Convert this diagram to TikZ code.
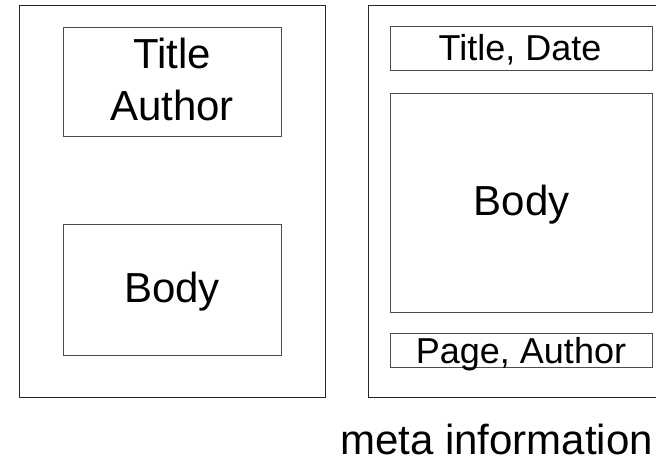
\documentclass[tikz,border=0pt]{standalone}
\usepackage{fontspec}
\setmainfont{Liberation Sans}
\begin{document}
\begin{tikzpicture}[x=1pt,y=-1pt,
  page/.style={draw=black!85,line width=1pt,inner sep=0pt,outer sep=0pt},
  box/.style={draw=black!70,line width=1pt,inner sep=0pt,outer sep=0pt},
  big/.style={font=\fontsize{42}{50}\selectfont,inner sep=0pt,anchor=base},
  mid/.style={font=\fontsize{36}{43}\selectfont,inner sep=0pt,anchor=base}]
\useasboundingbox (0,0) rectangle (656,460);
\clip (0,0) rectangle (656,460);
% left page
\node[page,minimum width=306pt,minimum height=392pt] (lp) at (172,201.5) {};
\node[box,minimum width=218pt,minimum height=108pt] (ltb) at (172,82) {};
\node[box,minimum width=218pt,minimum height=131pt] (lbb) at (172,289.5) {};
\node[big] (ltitle) at (172,69) {Title};
\node[big] (lauthor) at (172,120) {Author};
\node[big] (lbody) at (172,302) {Body};
% right page (clipped)
\node[page,minimum width=330pt,minimum height=392pt] (rp) at (533,201.5) {};
\node[box,minimum width=262pt,minimum height=44pt] (rtb) at (521,49) {};
\node[box,minimum width=262pt,minimum height=219pt] (rbb) at (521,202.5) {};
\node[box,minimum width=262pt,minimum height=34pt] (rpb) at (521,350) {};
\node[mid] (rtitle) at (520,60) {Title, Date};
\node[big] (rbody) at (521.5,215) {Body};
\node[mid] (rpage) at (521,363) {Page, Author};
\node[big,anchor=base west] (meta) at (340,454) {meta information};
\end{tikzpicture}
\end{document}
